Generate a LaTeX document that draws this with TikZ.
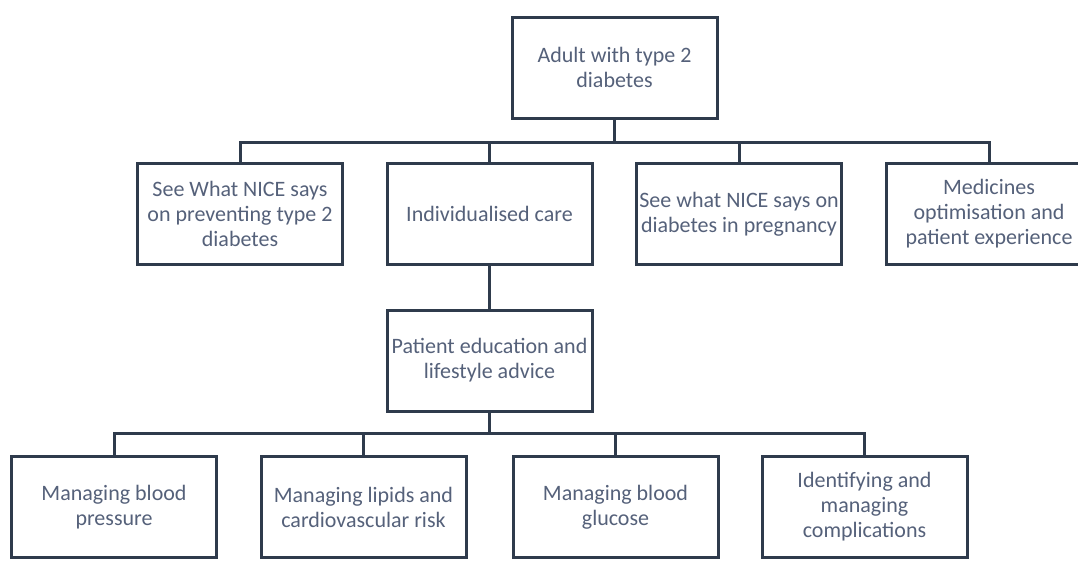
\documentclass[tikz,border=0pt]{standalone}
\usepackage{fontspec}
\setmainfont{Carlito}
\definecolor{linec}{HTML}{2F3B4C}
\definecolor{textc}{HTML}{55617A}
\begin{document}
\begin{tikzpicture}[x=1pt,y=-1pt,
  box/.style={draw=linec,line width=3pt,fill=white,minimum width=205pt,minimum height=101pt,
    inner sep=0pt,align=center,text=textc,font=\fontsize{22}{25}\selectfont},
  conn/.style={draw=linec,line width=3pt}]
\useasboundingbox (0,0) rectangle (1078,562);
\clip (0,0) rectangle (1078,562);
\fill[white] (0,0) rectangle (1078,562);
% nodes
\node[box] (top) at (614.5,67.5) {Adult with type 2\\diabetes};
\node[box] (b1) at (240,214) {See What NICE says\\on preventing type 2\\diabetes};
\node[box] (b2) at (489.5,214) {Individualised care};
\node[box] (b3) at (739,214) {See what NICE says on\\diabetes in pregnancy};
\node[box] (b4) at (989,214) {Medicines\\optimisation and\\patient experience};
\node[box] (mid) at (489.5,360.5) {Patient education and\\lifestyle advice};
\node[box] (c1) at (114,507) {Managing blood\\pressure};
\node[box] (c2) at (363.5,507) {Managing lipids and\\cardiovascular risk};
\node[box] (c3) at (615.5,507) {Managing blood\\glucose};
\node[box] (c4) at (864.5,507) {Identifying and\\managing\\complications};
% hubs
\coordinate (hubA) at (614.5,142);
\coordinate (hubB) at (489.5,433);
% connectors
\draw[conn] (top.south) -- (hubA);
\draw[conn] (b1.north) -- (b1.north |- hubA) -- (b4.north |- hubA) -- (b4.north);
\draw[conn] (b2.north |- hubA) -- (b2.north);
\draw[conn] (b3.north |- hubA) -- (b3.north);
\draw[conn] (b2.south) -- (mid.north);
\draw[conn] (mid.south) -- (hubB);
\draw[conn] (c1.north) -- (c1.north |- hubB) -- (c4.north |- hubB) -- (c4.north);
\draw[conn] (c2.north |- hubB) -- (c2.north);
\draw[conn] (c3.north |- hubB) -- (c3.north);
\end{tikzpicture}
\end{document}
